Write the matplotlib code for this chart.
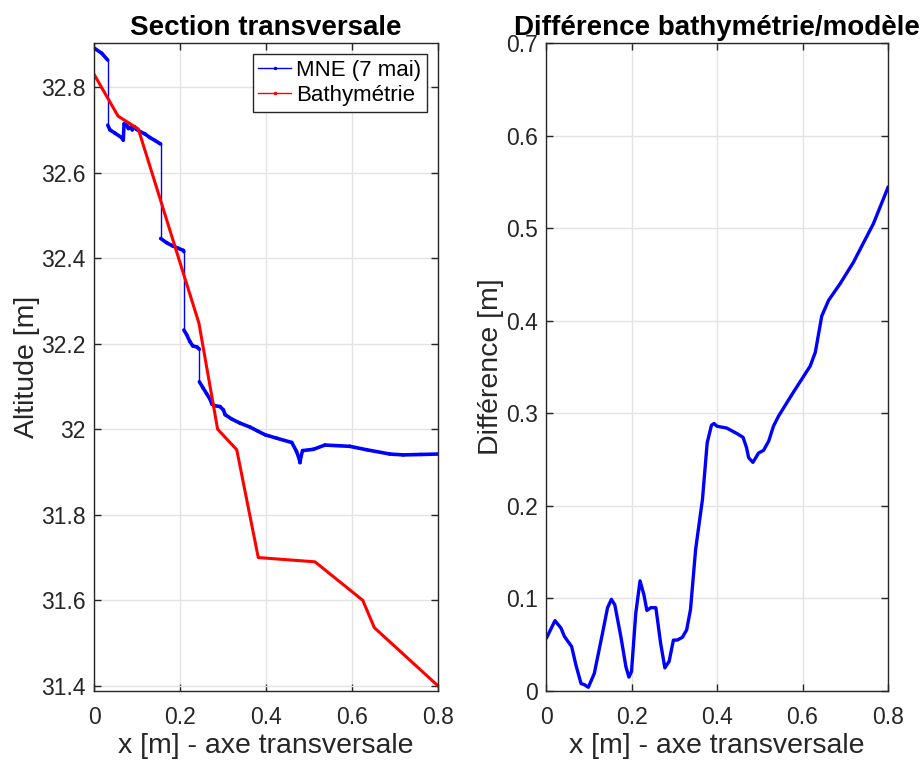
import numpy as np
import matplotlib
matplotlib.use("Agg")
import matplotlib.pyplot as plt
from matplotlib.collections import LineCollection
from matplotlib.lines import Line2D

plt.rcParams['font.family'] = ['Liberation Sans', 'DejaVu Sans']

# MNE profile (7 mai) along the transverse axis
x_mne = [0.002, 0.018, 0.032, 0.032, 0.037, 0.049, 0.064, 0.068, 0.070, 0.076,
         0.080, 0.085, 0.089, 0.094, 0.099, 0.107, 0.119, 0.130, 0.142, 0.153,
         0.155, 0.155, 0.169, 0.184, 0.196, 0.208, 0.209, 0.209, 0.2155, 0.223,
         0.2295, 0.240, 0.245, 0.245, 0.254, 0.262, 0.270, 0.274, 0.281, 0.293,
         0.301, 0.305, 0.320, 0.340, 0.363, 0.382, 0.398, 0.425, 0.460, 0.471,
         0.4775, 0.479, 0.481, 0.485, 0.510, 0.537, 0.595, 0.634, 0.688, 0.719,
         0.760, 0.800]
z_mne = [32.890, 32.879, 32.863, 32.711, 32.700, 32.692, 32.682, 32.676, 32.714, 32.711,
         32.703, 32.706, 32.700, 32.707, 32.701, 32.696, 32.690, 32.682, 32.675, 32.668,
         32.667, 32.446, 32.436, 32.428, 32.423, 32.418, 32.415, 32.232, 32.221, 32.205,
         32.195, 32.192, 32.187, 32.111, 32.096, 32.083, 32.070, 32.059, 32.055, 32.053,
         32.045, 32.034, 32.024, 32.014, 32.005, 31.995, 31.987, 31.979, 31.969, 31.948,
         31.930, 31.922, 31.935, 31.950, 31.953, 31.963, 31.960, 31.952, 31.942, 31.940,
         31.941, 31.942]

# Surveyed bathymetry
x_bathy = [0.0, 0.056, 0.103, 0.244, 0.2875, 0.332, 0.382, 0.514, 0.625, 0.652, 0.8]
z_bathy = [32.83, 32.732, 32.702, 32.248, 32.0, 31.952, 31.70, 31.69, 31.60, 31.536, 31.4]

# Difference bathymetry / model
x_diff = [0.002, 0.021, 0.035, 0.043, 0.060, 0.070, 0.082, 0.089, 0.099, 0.113,
          0.132, 0.144, 0.153, 0.161, 0.175, 0.187, 0.194, 0.200, 0.210, 0.220,
          0.229, 0.236, 0.245, 0.257, 0.268, 0.278, 0.288, 0.298, 0.307, 0.319,
          0.329, 0.338, 0.350, 0.366, 0.377, 0.387, 0.393, 0.400, 0.423, 0.447,
          0.461, 0.469, 0.474, 0.484, 0.492, 0.497, 0.509, 0.521, 0.532, 0.544,
          0.579, 0.618, 0.630, 0.645, 0.661, 0.688, 0.719, 0.766, 0.800]
d_diff = [0.058, 0.076, 0.068, 0.059, 0.048, 0.028, 0.008, 0.007, 0.004, 0.019,
          0.062, 0.090, 0.099, 0.093, 0.059, 0.026, 0.015, 0.021, 0.084, 0.119,
          0.104, 0.087, 0.090, 0.090, 0.052, 0.025, 0.032, 0.055, 0.055, 0.058,
          0.066, 0.088, 0.153, 0.207, 0.268, 0.287, 0.289, 0.286, 0.284, 0.278,
          0.274, 0.263, 0.252, 0.247, 0.253, 0.257, 0.260, 0.270, 0.286, 0.297,
          0.323, 0.351, 0.366, 0.405, 0.422, 0.440, 0.463, 0.505, 0.544]

xticks = [0, 0.2, 0.4, 0.6, 0.8]
xtick_labels = ['0', '0.2', '0.4', '0.6', '0.8']
zticks = [31.4, 31.6, 31.8, 32.0, 32.2, 32.4, 32.6, 32.8]
ztick_labels = ['31.4', '31.6', '31.8', '32', '32.2', '32.4', '32.6', '32.8']
dticks = [0, 0.1, 0.2, 0.3, 0.4, 0.5, 0.6, 0.7]
dtick_labels = ['0', '0.1', '0.2', '0.3', '0.4', '0.5', '0.6', '0.7']

txt_col = '#262626'
ax_col = '#262626'
grid_col = '#e3e3e3'


def style_axes(ax):
  """ Box, inward ticks on all sides and light grid """
  ax.grid(True, color=grid_col, linewidth=1.0)
  ax.set_axisbelow(True)
  for sp in ax.spines.values():
    sp.set_color(ax_col)
    sp.set_linewidth(1.0)
  ax.tick_params(direction='in', length=5, width=1, colors=ax_col,
                 labelcolor=txt_col, labelsize=16.5, top=True, right=True)
  ax.tick_params(axis='x', pad=11)
  ax.tick_params(axis='y', pad=6)


fig = plt.figure(figsize=(9.21, 7.61), dpi=100)

# Transverse section
ax1 = fig.add_axes([94 / 921, 70 / 761, 344 / 921, 648 / 761])
pts = np.column_stack([x_mne, z_mne])
segs = np.stack([pts[:-1], pts[1:]], axis=1)
# Vertical jumps of the MNE are sparsely sampled: draw them thin
dx = np.abs(np.diff(x_mne))
widths = np.where(dx < 1e-4, 1.0, 2.6)
ax1.add_collection(LineCollection(segs, colors='#0000ff', linewidths=widths,
                                  capstyle='round', joinstyle='round'))
ax1.plot(x_bathy, z_bathy, color='#ff0000', linewidth=2.2)
ax1.set_xlim(0, 0.8)
ax1.set_ylim(31.388, 32.903)
ax1.set_xticks(xticks, xtick_labels)
ax1.set_yticks(zticks, ztick_labels)
style_axes(ax1)
ax1.set_title('Section transversale', fontsize=20, fontweight='bold',
              color='k', pad=6)
ax1.set_xlabel('x [m] - axe transversale', fontsize=20.5, color=txt_col,
               labelpad=3)
ax1.set_ylabel('Altitude [m]', fontsize=20.5, color=txt_col, labelpad=1)
handles = [Line2D([], [], color='#0000ff', linewidth=1, marker='.',
                  markersize=3),
           Line2D([], [], color='#ff0000', linewidth=1, marker='.',
                  markersize=3)]
leg = ax1.legend(handles, ['MNE (7 mai)', 'Bathymétrie'], loc='upper right',
                 fontsize=16, fancybox=False, framealpha=1,
                 edgecolor=ax_col, handlelength=1.45, borderaxespad=0.5,
                 handletextpad=0.25, borderpad=0.25, labelspacing=0.2)
leg.get_frame().set_linewidth(1.0)
for t in leg.get_texts():
  t.set_color('k')

# Difference between bathymetry and model
ax2 = fig.add_axes([546 / 921, 70 / 761, 342 / 921, 648 / 761])
ax2.plot(x_diff, d_diff, color='#0000ff', linewidth=2.4,
         solid_joinstyle='round')
ax2.set_xlim(0, 0.8)
ax2.set_ylim(0, 0.7)
ax2.set_xticks(xticks, xtick_labels)
ax2.set_yticks(dticks, dtick_labels)
style_axes(ax2)
ax2.set_title('Différence bathymétrie/modèle', fontsize=20, fontweight='bold',
              color='k', pad=6)
ax2.set_xlabel('x [m] - axe transversale', fontsize=20.5, color=txt_col,
               labelpad=3)
ax2.set_ylabel('Différence [m]', fontsize=20.5, color=txt_col, labelpad=1)

fig.savefig('out.png', dpi=100)
